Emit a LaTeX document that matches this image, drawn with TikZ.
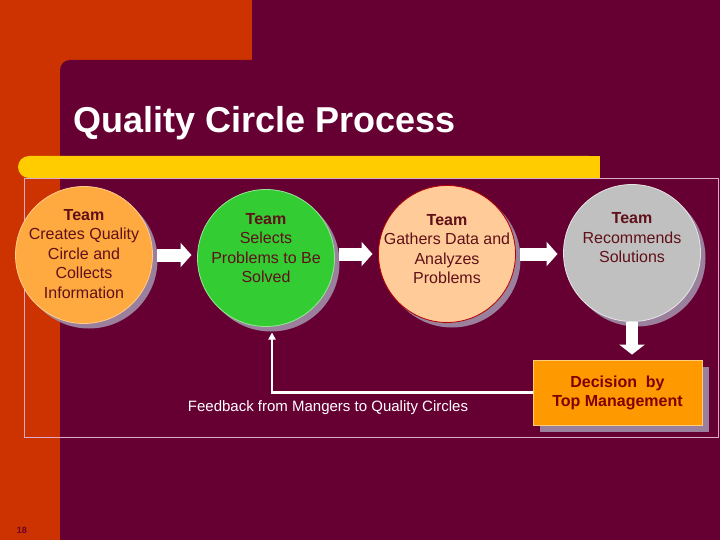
\documentclass[tikz,border=0pt]{standalone}
\usepackage{fontspec}
\setmainfont{Liberation Sans}
\usetikzlibrary{arrows.meta,shadows}

\begin{document}
\begin{tikzpicture}[x=1pt,y=-1pt,
  stage/.style={circle,minimum size=137pt,inner sep=0pt,outer sep=0pt,line width=0.8pt,
    drop shadow={shadow xshift=5pt,shadow yshift=-5pt,fill=cshadow,opacity=0.9}},
  stagetext/.style={align=center,text=ctext,inner sep=0pt,font=\fontsize{16}{19.5}\selectfont},
  blockarrow/.style={white,line width=13pt,-{Triangle[length=11pt,width=24pt]},shorten <=4pt,shorten >=6pt},
  downarrow/.style={white,line width=12pt,-{Triangle[length=10pt,width=25pt]},shorten >=5pt},
  feedback/.style={white,line width=2.5pt,-{Triangle[length=7pt,width=7pt]},shorten >=6pt},
  decbox/.style={fill=cdec,draw=cdecline,line width=0.8pt,minimum width=169pt,minimum height=65pt,
    align=center,text=cdectext,font=\bfseries\fontsize{16}{19}\selectfont,
    drop shadow={shadow xshift=7pt,shadow yshift=-7pt,fill=cshadow,opacity=0.9}}]
\definecolor{cmaroon}{RGB}{102,0,51}
\definecolor{corange}{RGB}{204,51,0}
\definecolor{cbar}{RGB}{255,204,0}
\definecolor{cframe}{RGB}{222,170,200}
\definecolor{cshadow}{RGB}{160,142,168}
\definecolor{ctext}{RGB}{96,16,24}
\definecolor{cone}{RGB}{255,170,64}
\definecolor{ctwo}{RGB}{51,204,51}
\definecolor{cthree}{RGB}{255,204,153}
\definecolor{cfour}{RGB}{192,192,192}
\definecolor{cdec}{RGB}{255,153,0}
\definecolor{cdecline}{RGB}{255,204,120}
\definecolor{cdectext}{RGB}{128,0,0}
\definecolor{cnum}{RGB}{110,0,40}
%
\useasboundingbox (0,0) rectangle (720,540);
\clip (0,0) rectangle (720,540);
\fill[corange] (0,0) rectangle (720,540);
\fill[cmaroon] (252,-10) rectangle (730,550);
\fill[cmaroon,rounded corners=10pt] (60,60) rectangle (730,550);
\fill[cbar,rounded corners=11pt] (18,156) rectangle (600,178);
\fill[cbar] (300,156) rectangle (600,178);
\draw[cframe,line width=1pt] (24,179) rectangle (718,437);
%
\node[anchor=base west,inner sep=0pt,text=white,font=\bfseries\fontsize{36}{40}\selectfont] (title) at (73,133) {Quality Circle Process};
%
\node[stage,fill=cone,draw=cone!60!white] (c1) at (84,255) {};
\node[stage,fill=ctwo,draw=ctwo!50!white] (c2) at (266,258) {};
\node[stage,fill=cthree,draw=red!70!black] (c3) at (447,254) {};
\node[stage,fill=cfour,draw=cfour!40!white] (c4) at (632,253) {};
%
\node[stagetext] (t1) at (84,254) {\textbf{Team}\\Creates Quality\\Circle and\\Collects\\Information};
\node[stagetext] (t2) at (266,248) {\textbf{Team}\\Selects\\Problems to Be\\Solved};
\node[stagetext] (t3) at (447,249) {\textbf{Team}\\Gathers Data and\\Analyzes\\Problems};
\node[stagetext] (t4) at (632,238) {\textbf{Team}\\Recommends\\Solutions};
%
\node[decbox] (dec) at (617.5,392.5) {Decision\ \ by\\Top Management};
\node[text=white,font=\fontsize{15}{18}\selectfont] (fbtext) at (328,408) {Feedback from Mangers to Quality Circles};
\node[text=cnum,font=\bfseries\fontsize{9}{10}\selectfont] (pg) at (22,530) {18};
%
\draw[blockarrow] (c1.east) -- (c1 -| c2.west);
\draw[blockarrow] (c2.east |- c3) -- (c3.west);
\draw[blockarrow] (c3.east) -- (c3 -| c4.west);
\draw[downarrow] (c4.south) -- (c4.south |- dec.north);
\draw[feedback] (dec.west) -| ([xshift=6pt]c2.south);
%
\end{tikzpicture}
\end{document}
